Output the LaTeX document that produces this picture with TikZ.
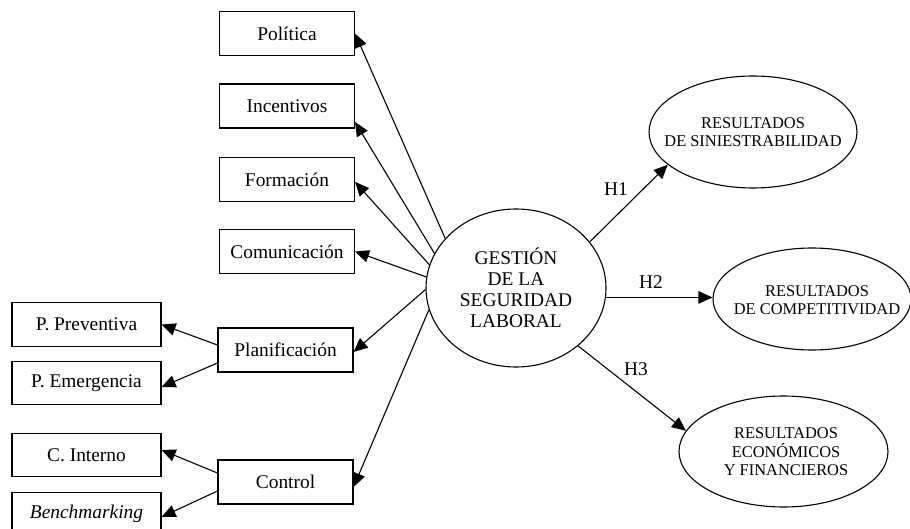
\documentclass[tikz,border=0pt]{standalone}
\usepackage{fontspec}
\setmainfont{Liberation Serif}
\usetikzlibrary{arrows.meta,shapes.geometric}
\begin{document}
\begin{tikzpicture}[x=0.5pt,y=-0.5pt,
 box/.style={draw, line width=0.55pt, minimum width=67.5pt, minimum height=22pt, inner sep=0pt, font=\fontsize{9.7}{10.5}\selectfont},
 lbox/.style={box, minimum width=74.5pt, minimum height=21.8pt},
 oval/.style={draw, line width=0.55pt, ellipse, inner sep=0pt},
 lab/.style={font=\fontsize{9.7}{10.5}\selectfont, align=center, inner sep=0pt},
 rlab/.style={font=\fontsize{8.2}{9.25}\selectfont, align=center, inner sep=0pt},
 arr/.style={line width=0.55pt, -{Triangle[length=7pt,width=6.2pt]}}
]
\useasboundingbox (0,0) rectangle (910,529);
% boxes
\node[box] (pol) at (287,33.5) {Política};
\node[box] (inc) at (287,106) {Incentivos};
\node[box] (for) at (287,179.5) {Formación};
\node[box] (com) at (287,251.5) {Comunicación};
\node[box] (plan) at (285.5,350) {Planificación};
\node[box] (ctrl) at (285.5,482) {Control};
\node[lbox] (pp) at (86.5,324.5) {P. Preventiva};
\node[lbox] (pe) at (86.5,383) {P. Emergencia};
\node[lbox] (ci) at (86.5,455) {C. Interno};
\node[lbox] (bm) at (86.5,514) {\textit{Benchmarking}};
% ellipses
\node[oval, minimum width=90pt, minimum height=79pt] (g) at (516,288) {};
\node[lab] (gt) at (g) {GESTIÓN\\DE LA\\SEGURIDAD\\LABORAL};
\node[oval, minimum width=104pt, minimum height=56pt] (s) at (753,132) {};
\node[rlab] (st) at (s) {RESULTADOS\\DE SINIESTRABILIDAD};
\node[oval, minimum width=99pt, minimum height=51pt] (c) at (812,299) {};
\node[rlab] (ct) at (817,300) {RESULTADOS\\DE COMPETITIVIDAD};
\node[oval, minimum width=104.5pt, minimum height=55.5pt] (e) at (783.5,451.5) {};
\node[rlab] (et) at (786,452) {RESULTADOS\\ECONÓMICOS\\Y FINANCIEROS};
% H labels
\node[lab] (h1) at (616,189) {H1};
\node[lab] (h2) at (651,282) {H2};
\node[lab] (h3) at (636,369) {H3};
% arrows to dimension boxes
\draw[arr] (g.145.6) -- (pol.east);
\draw[arr] (g.157.4) -- ([yshift=-8pt]inc.east);
\draw[arr] (g.165.4) -- ([yshift=-1.2pt]for.east);
\draw[arr] (g.173.7) -- (com.east);
\draw[arr] (g.181) -- ([yshift=-1pt]plan.east);
\draw[arr] (g.194.7) -- ([yshift=-2.5pt]ctrl.east);
% sub arrows
\draw[arr] ([yshift=2.5pt]plan.west) -- (pp.east);
\draw[arr] ([yshift=-6.5pt]plan.west) -- ([yshift=-2pt]pe.east);
\draw[arr] ([yshift=4.5pt]ctrl.west) -- ([yshift=2.5pt]ci.east);
\draw[arr] ([yshift=-4.5pt]ctrl.west) -- ([yshift=-1.5pt]bm.east);
% hypotheses
\draw[arr] (g.32) -- (s.201);
\draw[arr] (g.-6) -- (c.west |- g.-6);
\draw[arr] (g.-43) -- (e.168);
\end{tikzpicture}
\end{document}
